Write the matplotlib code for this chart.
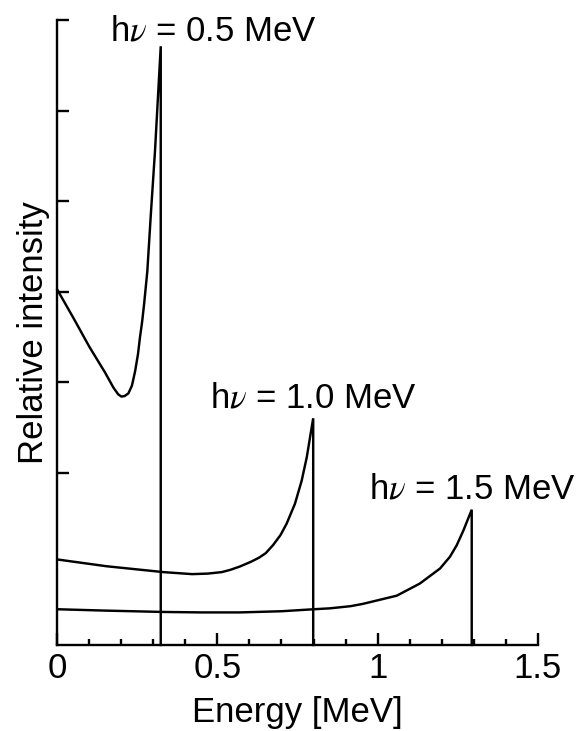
import matplotlib
matplotlib.use("Agg")
import matplotlib.pyplot as plt
from matplotlib.ticker import MultipleLocator

plt.rcParams['font.family'] = ['Liberation Sans', 'DejaVu Sans']
plt.rcParams['mathtext.fontset'] = 'stix'

# Spectrum for h nu = 0.5 MeV
e05 = [0.0, 0.05, 0.10, 0.15, 0.175, 0.19, 0.20, 0.21, 0.222, 0.233,
       0.243, 0.252, 0.258, 0.265, 0.271, 0.281, 0.292, 0.305, 0.323]
i05 = [4.02, 3.71, 3.39, 3.10, 2.94, 2.865, 2.84, 2.845, 2.875, 2.96,
       3.12, 3.31, 3.49, 3.67, 3.86, 4.22, 4.85, 5.55, 6.71]

# Spectrum for h nu = 1.0 MeV
e10 = [0.0, 0.154, 0.332, 0.421, 0.47, 0.513, 0.54, 0.57, 0.605, 0.63,
       0.651, 0.674, 0.697, 0.716, 0.742, 0.763, 0.779, 0.791, 0.799]
i10 = [1.04, 0.965, 0.90, 0.878, 0.884, 0.90, 0.925, 0.962, 1.015, 1.06,
       1.11, 1.20, 1.31, 1.435, 1.655, 1.91, 2.17, 2.43, 2.60]

# Spectrum for h nu = 1.5 MeV
e15 = [0.0, 0.15, 0.332, 0.45, 0.57, 0.70, 0.801, 0.851, 0.916, 0.955,
       1.060, 1.132, 1.195, 1.226, 1.247, 1.268, 1.294]
i15 = [0.49, 0.475, 0.46, 0.455, 0.455, 0.468, 0.49, 0.50, 0.524, 0.55,
       0.64, 0.774, 0.94, 1.07, 1.196, 1.36, 1.59]

labels = [r'h$\nu$ = 0.5 MeV', r'h$\nu$ = 1.0 MeV', r'h$\nu$ = 1.5 MeV']
label_x = [0.165, 0.478, 0.972]
label_y = [6.77, 2.72, 1.71]

xticks = [0, 0.5, 1, 1.5]
xticklabels = ['0', '0.5', '1', '1.5']
yticks = [2, 3, 4, 5, 6, 7]

ylo, yhi = 0.095, 7.0
FS = 25

fig = plt.figure(figsize=(5.76, 7.31), dpi=100)
ax = fig.add_axes([57.3 / 576, 1 - 645 / 731, (537.7 - 57.3) / 576, (645 - 20) / 731])

for e, i in [(e05, i05), (e10, i10), (e15, i15)]:
    xs = list(e) + [e[-1]]
    ys = list(i) + [ylo]
    ax.plot(xs, ys, color='black', lw=1.75, solid_joinstyle='miter', clip_on=False)

for t, x, y in zip(labels, label_x, label_y):
    ax.text(x, y, t, fontsize=FS, ha='left', va='baseline', clip_on=False)

ax.set_xlim(0, 1.5)
ax.set_ylim(ylo, yhi)
ax.set_xticks(xticks)
ax.set_xticklabels(xticklabels)
ax.xaxis.set_minor_locator(MultipleLocator(0.1))
ax.set_yticks(yticks)
ax.set_yticklabels([])

for s in ['top', 'right']:
    ax.spines[s].set_visible(False)
for s in ['left', 'bottom']:
    ax.spines[s].set_linewidth(1.7)

ax.tick_params(axis='x', which='major', direction='in', length=8.5, width=1.7,
               labelsize=FS, pad=5)
ax.tick_params(axis='x', which='minor', direction='in', length=4.2, width=1.7)
ax.tick_params(axis='y', which='major', direction='in', length=8.5, width=1.7)

ax.set_xlabel('Energy [MeV]', fontsize=FS, labelpad=8)
ax.set_ylabel('Relative intensity', fontsize=FS, labelpad=1.5)

fig.savefig('out.png', dpi=100)
